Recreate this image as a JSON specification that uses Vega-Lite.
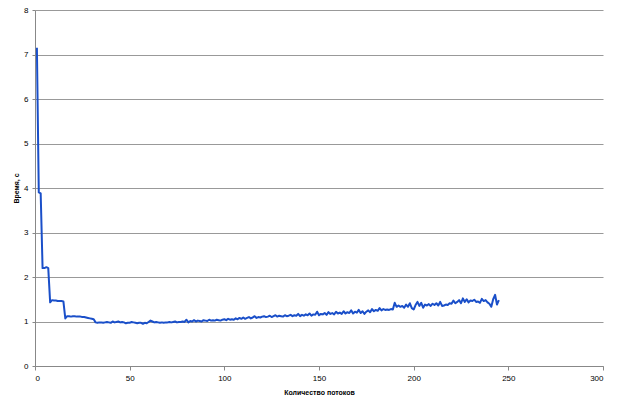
{
  "$schema": "https://vega.github.io/schema/vega-lite/v6.json",
  "width": 568,
  "height": 356,
  "autosize": {"type": "none"},
  "padding": {"left": 35, "top": 10, "right": 17, "bottom": 40},
  "background": "white",
  "config": {"view": {"stroke": null}, "font": "Liberation Sans"},
  "data": {"values": [
    {"n":1,"t":7.15},{"n":2,"t":3.9},{"n":3,"t":3.88},{"n":4,"t":2.2},{"n":5,"t":2.2},{"n":6,"t":2.22},{"n":7,"t":2.2},{"n":8,"t":1.43},{"n":9,"t":1.48},{"n":10,"t":1.47},
    {"n":11,"t":1.47},{"n":12,"t":1.46},{"n":13,"t":1.46},{"n":14,"t":1.46},{"n":15,"t":1.45},{"n":16,"t":1.07},{"n":17,"t":1.12},{"n":18,"t":1.12},{"n":19,"t":1.11},{"n":20,"t":1.12},
    {"n":21,"t":1.12},{"n":22,"t":1.11},{"n":23,"t":1.11},{"n":24,"t":1.11},{"n":25,"t":1.10},{"n":26,"t":1.10},{"n":27,"t":1.09},{"n":28,"t":1.08},{"n":29,"t":1.07},{"n":30,"t":1.06},
    {"n":31,"t":1.05},{"n":32,"t":0.98},{"n":33,"t":0.97},{"n":34,"t":0.98},{"n":35,"t":0.98},{"n":36,"t":0.97},{"n":37,"t":0.98},{"n":38,"t":0.99},{"n":39,"t":0.98},{"n":40,"t":0.97},
    {"n":41,"t":1.00},{"n":42,"t":0.98},{"n":43,"t":0.99},{"n":44,"t":1.00},{"n":45,"t":0.98},{"n":46,"t":0.99},{"n":47,"t":0.98},{"n":48,"t":0.96},{"n":49,"t":0.97},{"n":50,"t":0.97},
    {"n":51,"t":0.99},{"n":52,"t":0.98},{"n":53,"t":0.97},{"n":54,"t":0.96},{"n":55,"t":0.97},{"n":56,"t":0.97},{"n":57,"t":0.95},{"n":58,"t":0.97},{"n":59,"t":0.96},{"n":60,"t":0.99},
    {"n":61,"t":1.02},{"n":62,"t":1.00},{"n":63,"t":0.98},{"n":64,"t":0.99},{"n":65,"t":0.98},{"n":66,"t":0.97},{"n":67,"t":0.98},{"n":68,"t":0.97},{"n":69,"t":0.98},{"n":70,"t":0.98},
    {"n":71,"t":0.99},{"n":72,"t":0.98},{"n":73,"t":0.99},{"n":74,"t":1.00},{"n":75,"t":0.98},{"n":76,"t":0.99},{"n":77,"t":0.99},{"n":78,"t":1.00},{"n":79,"t":0.99},{"n":80,"t":1.04},
    {"n":81,"t":0.98},{"n":82,"t":1.01},{"n":83,"t":1.00},{"n":84,"t":1.03},{"n":85,"t":1.00},{"n":86,"t":1.02},{"n":87,"t":1.01},{"n":88,"t":1.00},{"n":89,"t":1.03},{"n":90,"t":1.02},
    {"n":91,"t":1.01},{"n":92,"t":1.04},{"n":93,"t":1.02},{"n":94,"t":1.03},{"n":95,"t":1.02},{"n":96,"t":1.04},{"n":97,"t":1.03},{"n":98,"t":1.02},{"n":99,"t":1.04},{"n":100,"t":1.05},
    {"n":101,"t":1.03},{"n":102,"t":1.06},{"n":103,"t":1.04},{"n":104,"t":1.05},{"n":105,"t":1.04},{"n":106,"t":1.07},{"n":107,"t":1.05},{"n":108,"t":1.08},{"n":109,"t":1.06},{"n":110,"t":1.09},
    {"n":111,"t":1.06},{"n":112,"t":1.08},{"n":113,"t":1.10},{"n":114,"t":1.07},{"n":115,"t":1.09},{"n":116,"t":1.12},{"n":117,"t":1.08},{"n":118,"t":1.10},{"n":119,"t":1.09},{"n":120,"t":1.11},
    {"n":121,"t":1.12},{"n":122,"t":1.10},{"n":123,"t":1.11},{"n":124,"t":1.13},{"n":125,"t":1.10},{"n":126,"t":1.12},{"n":127,"t":1.14},{"n":128,"t":1.11},{"n":129,"t":1.13},{"n":130,"t":1.12},
    {"n":131,"t":1.11},{"n":132,"t":1.14},{"n":133,"t":1.12},{"n":134,"t":1.13},{"n":135,"t":1.15},{"n":136,"t":1.12},{"n":137,"t":1.14},{"n":138,"t":1.13},{"n":139,"t":1.17},{"n":140,"t":1.12},
    {"n":141,"t":1.15},{"n":142,"t":1.13},{"n":143,"t":1.16},{"n":144,"t":1.14},{"n":145,"t":1.18},{"n":146,"t":1.13},{"n":147,"t":1.16},{"n":148,"t":1.15},{"n":149,"t":1.22},{"n":150,"t":1.14},
    {"n":151,"t":1.17},{"n":152,"t":1.16},{"n":153,"t":1.19},{"n":154,"t":1.15},{"n":155,"t":1.21},{"n":156,"t":1.17},{"n":157,"t":1.19},{"n":158,"t":1.16},{"n":159,"t":1.22},{"n":160,"t":1.18},
    {"n":161,"t":1.20},{"n":162,"t":1.17},{"n":163,"t":1.23},{"n":164,"t":1.18},{"n":165,"t":1.21},{"n":166,"t":1.19},{"n":167,"t":1.25},{"n":168,"t":1.18},{"n":169,"t":1.22},{"n":170,"t":1.20},
    {"n":171,"t":1.26},{"n":172,"t":1.19},{"n":173,"t":1.23},{"n":174,"t":1.17},{"n":175,"t":1.22},{"n":176,"t":1.25},{"n":177,"t":1.21},{"n":178,"t":1.28},{"n":179,"t":1.23},{"n":180,"t":1.26},
    {"n":181,"t":1.24},{"n":182,"t":1.30},{"n":183,"t":1.25},{"n":184,"t":1.28},{"n":185,"t":1.26},{"n":186,"t":1.27},{"n":187,"t":1.26},{"n":188,"t":1.28},{"n":189,"t":1.27},{"n":190,"t":1.42},
    {"n":191,"t":1.33},{"n":192,"t":1.36},{"n":193,"t":1.33},{"n":194,"t":1.35},{"n":195,"t":1.31},{"n":196,"t":1.38},{"n":197,"t":1.33},{"n":198,"t":1.41},{"n":199,"t":1.30},{"n":200,"t":1.27},
    {"n":201,"t":1.37},{"n":202,"t":1.44},{"n":203,"t":1.35},{"n":204,"t":1.42},{"n":205,"t":1.31},{"n":206,"t":1.38},{"n":207,"t":1.36},{"n":208,"t":1.39},{"n":209,"t":1.35},{"n":210,"t":1.40},
    {"n":211,"t":1.37},{"n":212,"t":1.41},{"n":213,"t":1.36},{"n":214,"t":1.44},{"n":215,"t":1.35},{"n":216,"t":1.36},{"n":217,"t":1.38},{"n":218,"t":1.37},{"n":219,"t":1.41},{"n":220,"t":1.40},
    {"n":221,"t":1.47},{"n":222,"t":1.41},{"n":223,"t":1.44},{"n":224,"t":1.48},{"n":225,"t":1.41},{"n":226,"t":1.52},{"n":227,"t":1.44},{"n":228,"t":1.50},{"n":229,"t":1.43},{"n":230,"t":1.47},
    {"n":231,"t":1.46},{"n":232,"t":1.49},{"n":233,"t":1.44},{"n":234,"t":1.45},{"n":235,"t":1.42},{"n":236,"t":1.51},{"n":237,"t":1.46},{"n":238,"t":1.48},{"n":239,"t":1.43},{"n":240,"t":1.40},
    {"n":241,"t":1.33},{"n":242,"t":1.50},{"n":243,"t":1.60},{"n":244,"t":1.38},{"n":245,"t":1.48}
  ]},
  "mark": {"type": "line", "color": "#1a4fc9", "strokeWidth": 2, "strokeJoin": "round"},
  "encoding": {
    "x": {
      "field": "n", "type": "quantitative",
      "scale": {"domain": [0, 300], "nice": false, "zero": true},
      "axis": {
        "title": "Количество потоков", "values": [0, 50, 100, 150, 200, 250, 300],
        "grid": false, "domainColor": "#888888", "tickColor": "#888888", "tickSize": 4,
        "labelFontSize": 8, "labelColor": "#000000", "labelPadding": 4,
        "titleFontSize": 7, "titleFontWeight": "bold", "titleColor": "#000000", "titlePadding": 6
      }
    },
    "y": {
      "field": "t", "type": "quantitative",
      "scale": {"domain": [0, 8], "nice": false},
      "axis": {
        "title": "Время, с", "values": [0, 1, 2, 3, 4, 5, 6, 7, 8],
        "grid": true, "gridColor": "#999999", "gridWidth": 1,
        "domainColor": "#888888", "tickColor": "#888888", "tickSize": 3,
        "labelFontSize": 8, "labelColor": "#000000", "labelPadding": 4,
        "titleFontSize": 7, "titleFontWeight": "bold", "titleColor": "#000000", "titlePadding": 4
      }
    }
  }
}
